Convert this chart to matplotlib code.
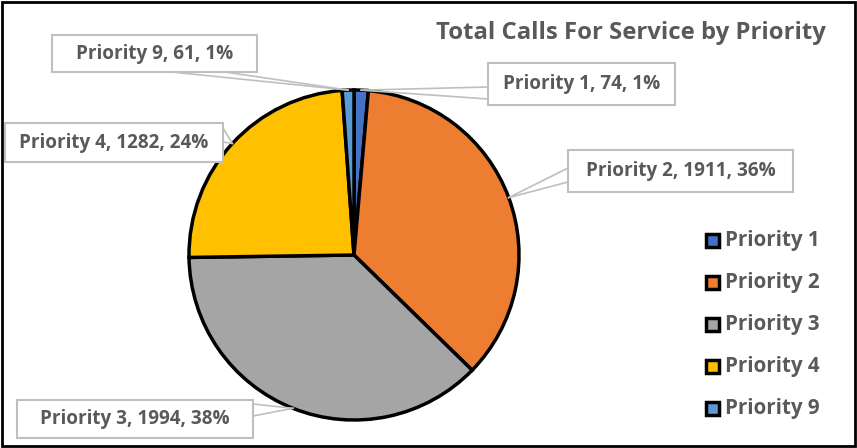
import numpy as np
import matplotlib.pyplot as plt
from matplotlib.patches import Rectangle

# data
categories = ["Priority 1", "Priority 2", "Priority 3", "Priority 4", "Priority 9"]
calls = [74, 1911, 1994, 1282, 61]
percents = [1, 36, 38, 24, 1]  # as shown on the chart labels
colors = ["#4472C4", "#ED7D31", "#A5A5A5", "#FFC000", "#5B9BD5"]
title = "Total Calls For Service by Priority"

W, H = 857, 448
TEXT = "#595959"
FONT = "Open Sans"

fig = plt.figure(figsize=(W / 100, H / 100), dpi=100)
ax = fig.add_axes([0, 0, 1, 1])

cx, cy, r = 354, H - 255, 165
wedges, _ = ax.pie(
    calls,
    colors=colors,
    startangle=90,
    counterclock=False,
    center=(cx, cy),
    radius=r,
    wedgeprops=dict(edgecolor="black", linewidth=2.5),
    frame=True,
)
ax.set_xlim(0, W)
ax.set_ylim(0, H)
ax.set_aspect("equal")
ax.axis("off")

# label boxes: (left, top, width, height) in pixels from top-left, and callout base points
boxes = [
    ((488, 63, 187, 42), [(488, 87), (488, 99)]),
    ((568, 150, 225, 42), [(568, 168), (568, 182)]),
    ((17, 400, 236, 38), [(253, 404), (253, 416)]),
    ((5, 123, 218, 39), [(223, 128), (223, 142)]),
    ((52, 35, 205, 37), [(172, 72), (225, 72)]),
]

for w, cat, val, pct, (box, base) in zip(wedges, categories, calls, percents, boxes):
    mid = np.deg2rad((w.theta1 + w.theta2) / 2)
    px, py = cx + r * np.cos(mid), cy + r * np.sin(mid)
    for bx, by in base:
        ax.plot([bx, px], [H - by, py], color="#BFBFBF", lw=1.2, zorder=5)
    left, top, bw, bh = box
    ax.add_patch(Rectangle((left, H - top - bh), bw, bh, facecolor="white",
                           edgecolor="#BFBFBF", lw=1.5, zorder=6))
    ax.text(left + bw / 2, H - top - bh / 2, f"{cat}, {val}, {pct}%",
            ha="center", va="center", fontsize=13.6, fontweight="bold",
            color=TEXT, family=FONT, zorder=7)

ax.text(631, H - 33, title, ha="center", va="center", fontsize=17.2,
        fontweight="bold", color=TEXT, family=FONT)

# legend
for i, (cat, c) in enumerate(zip(categories, colors)):
    y = H - (240 + i * 42.2)
    ax.add_patch(Rectangle((706, y - 6.5), 13, 13, facecolor=c, edgecolor="black",
                           lw=2.5, zorder=6))
    ax.text(725, y, cat, ha="left", va="center", fontsize=14.8,
            fontweight="bold", color=TEXT, family=FONT)

# outer border
ax.add_patch(Rectangle((2, 2), W - 4, H - 4, fill=False, edgecolor="black", lw=2))

fig.savefig("out.png", dpi=100)
